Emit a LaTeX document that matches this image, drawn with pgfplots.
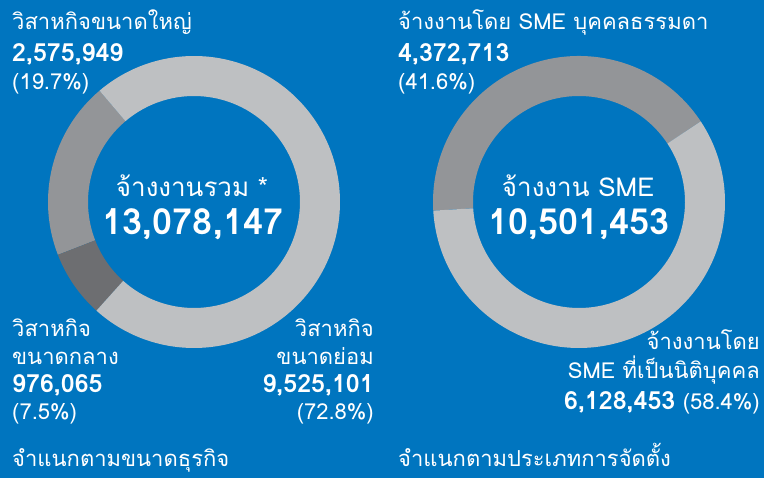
\documentclass[border=0pt]{standalone}
\usepackage{pgfplots}
\pgfplotsset{compat=1.18}
\usepackage{pgfplotstable}
\usepackage{fontspec}
\setmainfont[Script=Thai]{Loma}
\definecolor{bgblue}{HTML}{0075BF}
\definecolor{lgray}{HTML}{BEC0C2}
\definecolor{mgray}{HTML}{939598}
\definecolor{dgray}{HTML}{6D6E71}

\pgfplotstableread{
segment value
large 2575949
medium 976065
small 9525101
}\sizetable
\pgfplotstableread{
segment value
individual 4372713
juristic 6128453
}\typetable

\pgfplotstablegetelem{0}{value}\of\sizetable \edef\sA{\pgfplotsretval}
\pgfplotstablegetelem{1}{value}\of\sizetable \edef\sB{\pgfplotsretval}
\pgfplotstablegetelem{2}{value}\of\sizetable \edef\sC{\pgfplotsretval}
\pgfplotstablegetelem{0}{value}\of\typetable \edef\tA{\pgfplotsretval}
\pgfplotstablegetelem{1}{value}\of\typetable \edef\tB{\pgfplotsretval}

\edef\aZ{130.3}
\edef\aA{\fpeval{\aZ+360*\sA/(\sA+\sB+\sC)}}
\edef\aB{\fpeval{\aA+360*\sB/(\sA+\sB+\sC)}}
\edef\aC{\fpeval{\aB+360*\sC/(\sA+\sB+\sC)}}
\edef\bZ{33.5}
\edef\bA{\fpeval{\bZ+360*\tA/(\tA+\tB)}}
\edef\bB{\fpeval{\bA+360*\tB/(\tA+\tB)}}

% segment: cx, cy, start, end, colour
\newcommand\seg[5]{%
  \fill[#5] (axis cs:{#1+146*cos(#3)},{#2+146*sin(#3)})
    arc[start angle=#3,end angle=#4,radius=146]
    -- (axis cs:{#1+106*cos(#4)},{#2+106*sin(#4)})
    arc[start angle=#4,end angle=#3,radius=106] -- cycle;}

\begin{document}
\begin{tikzpicture}
\begin{axis}[x=1pt,y=1pt,xmin=0,xmax=764,ymin=0,ymax=478,
  hide axis, scale only axis, clip=false]
\fill[bgblue] (axis cs:0,0) rectangle (axis cs:764,478);
% left donut (centre 194,202 px)
\seg{194}{276}{\aZ}{\aA}{mgray}
\seg{194}{276}{\aA}{\aB}{dgray}
\seg{194}{276}{\aB}{\aC}{lgray}
% right donut (centre 579,202 px)
\seg{579}{276}{\bZ}{\bA}{mgray}
\seg{579}{276}{\bA}{\bB}{lgray}

\begin{scope}[every node/.style={text=white,inner sep=0pt}]
\node[anchor=base west,font=\fontsize{22}{24}\selectfont] at (axis cs:12,448) {วิสาหกิจขนาดใหญ่};
\node[anchor=base west,font=\fontsize{25}{26}\selectfont\bfseries] at (axis cs:12,416) {2,575,949};
\node[anchor=base west,font=\fontsize{22}{24}\selectfont] at (axis cs:12,388) {(19.7\%)};

\node[anchor=base,font=\fontsize{26}{28}\selectfont] at (axis cs:192,281) {จ้างงานรวม *};
\node[anchor=base,font=\fontsize{36}{40}\selectfont\bfseries] at (axis cs:193,243) {13,078,147};

\node[anchor=base west,font=\fontsize{22}{24}\selectfont] at (axis cs:12,141) {วิสาหกิจ};
\node[anchor=base west,font=\fontsize{22}{24}\selectfont] at (axis cs:12,113) {ขนาดกลาง};
\node[anchor=base west,font=\fontsize{25}{26}\selectfont\bfseries] at (axis cs:12,85) {976,065};
\node[anchor=base west,font=\fontsize{22}{24}\selectfont] at (axis cs:12,58) {(7.5\%)};

\node[anchor=base east,font=\fontsize{22}{24}\selectfont] at (axis cs:374,141) {วิสาหกิจ};
\node[anchor=base east,font=\fontsize{22}{24}\selectfont] at (axis cs:374,113) {ขนาดย่อม};
\node[anchor=base east,font=\fontsize{25}{26}\selectfont\bfseries] at (axis cs:374,85) {9,525,101};
\node[anchor=base east,font=\fontsize{22}{24}\selectfont] at (axis cs:374,58) {(72.8\%)};

\node[anchor=base west,font=\fontsize{22}{24}\selectfont] at (axis cs:12,11) {จำแนกตามขนาดธุรกิจ};

\node[anchor=base west,font=\fontsize{22}{24}\selectfont] at (axis cs:398,448) {จ้างงานโดย SME บุคคลธรรมดา};
\node[anchor=base west,font=\fontsize{25}{26}\selectfont\bfseries] at (axis cs:398,416) {4,372,713};
\node[anchor=base west,font=\fontsize{22}{24}\selectfont] at (axis cs:398,388) {(41.6\%)};

\node[anchor=base,font=\fontsize{26}{28}\selectfont] at (axis cs:578,281) {จ้างงาน SME};
\node[anchor=base,font=\fontsize{36}{40}\selectfont\bfseries] at (axis cs:579,243) {10,501,453};

\node[anchor=base east,font=\fontsize{22}{24}\selectfont] at (axis cs:760,128) {จ้างงานโดย};
\node[anchor=base east,font=\fontsize{22}{24}\selectfont] at (axis cs:760,99) {SME ที่เป็นนิติบุคคล};
\node[anchor=base east,font=\fontsize{22}{24}\selectfont] at (axis cs:760,68) {{\fontsize{25}{26}\selectfont\bfseries 6,128,453} (58.4\%)};

\node[anchor=base west,font=\fontsize{22}{24}\selectfont] at (axis cs:398,11) {จำแนกตามประเภทการจัดตั้ง};
\end{scope}
\end{axis}
\end{tikzpicture}
\end{document}
